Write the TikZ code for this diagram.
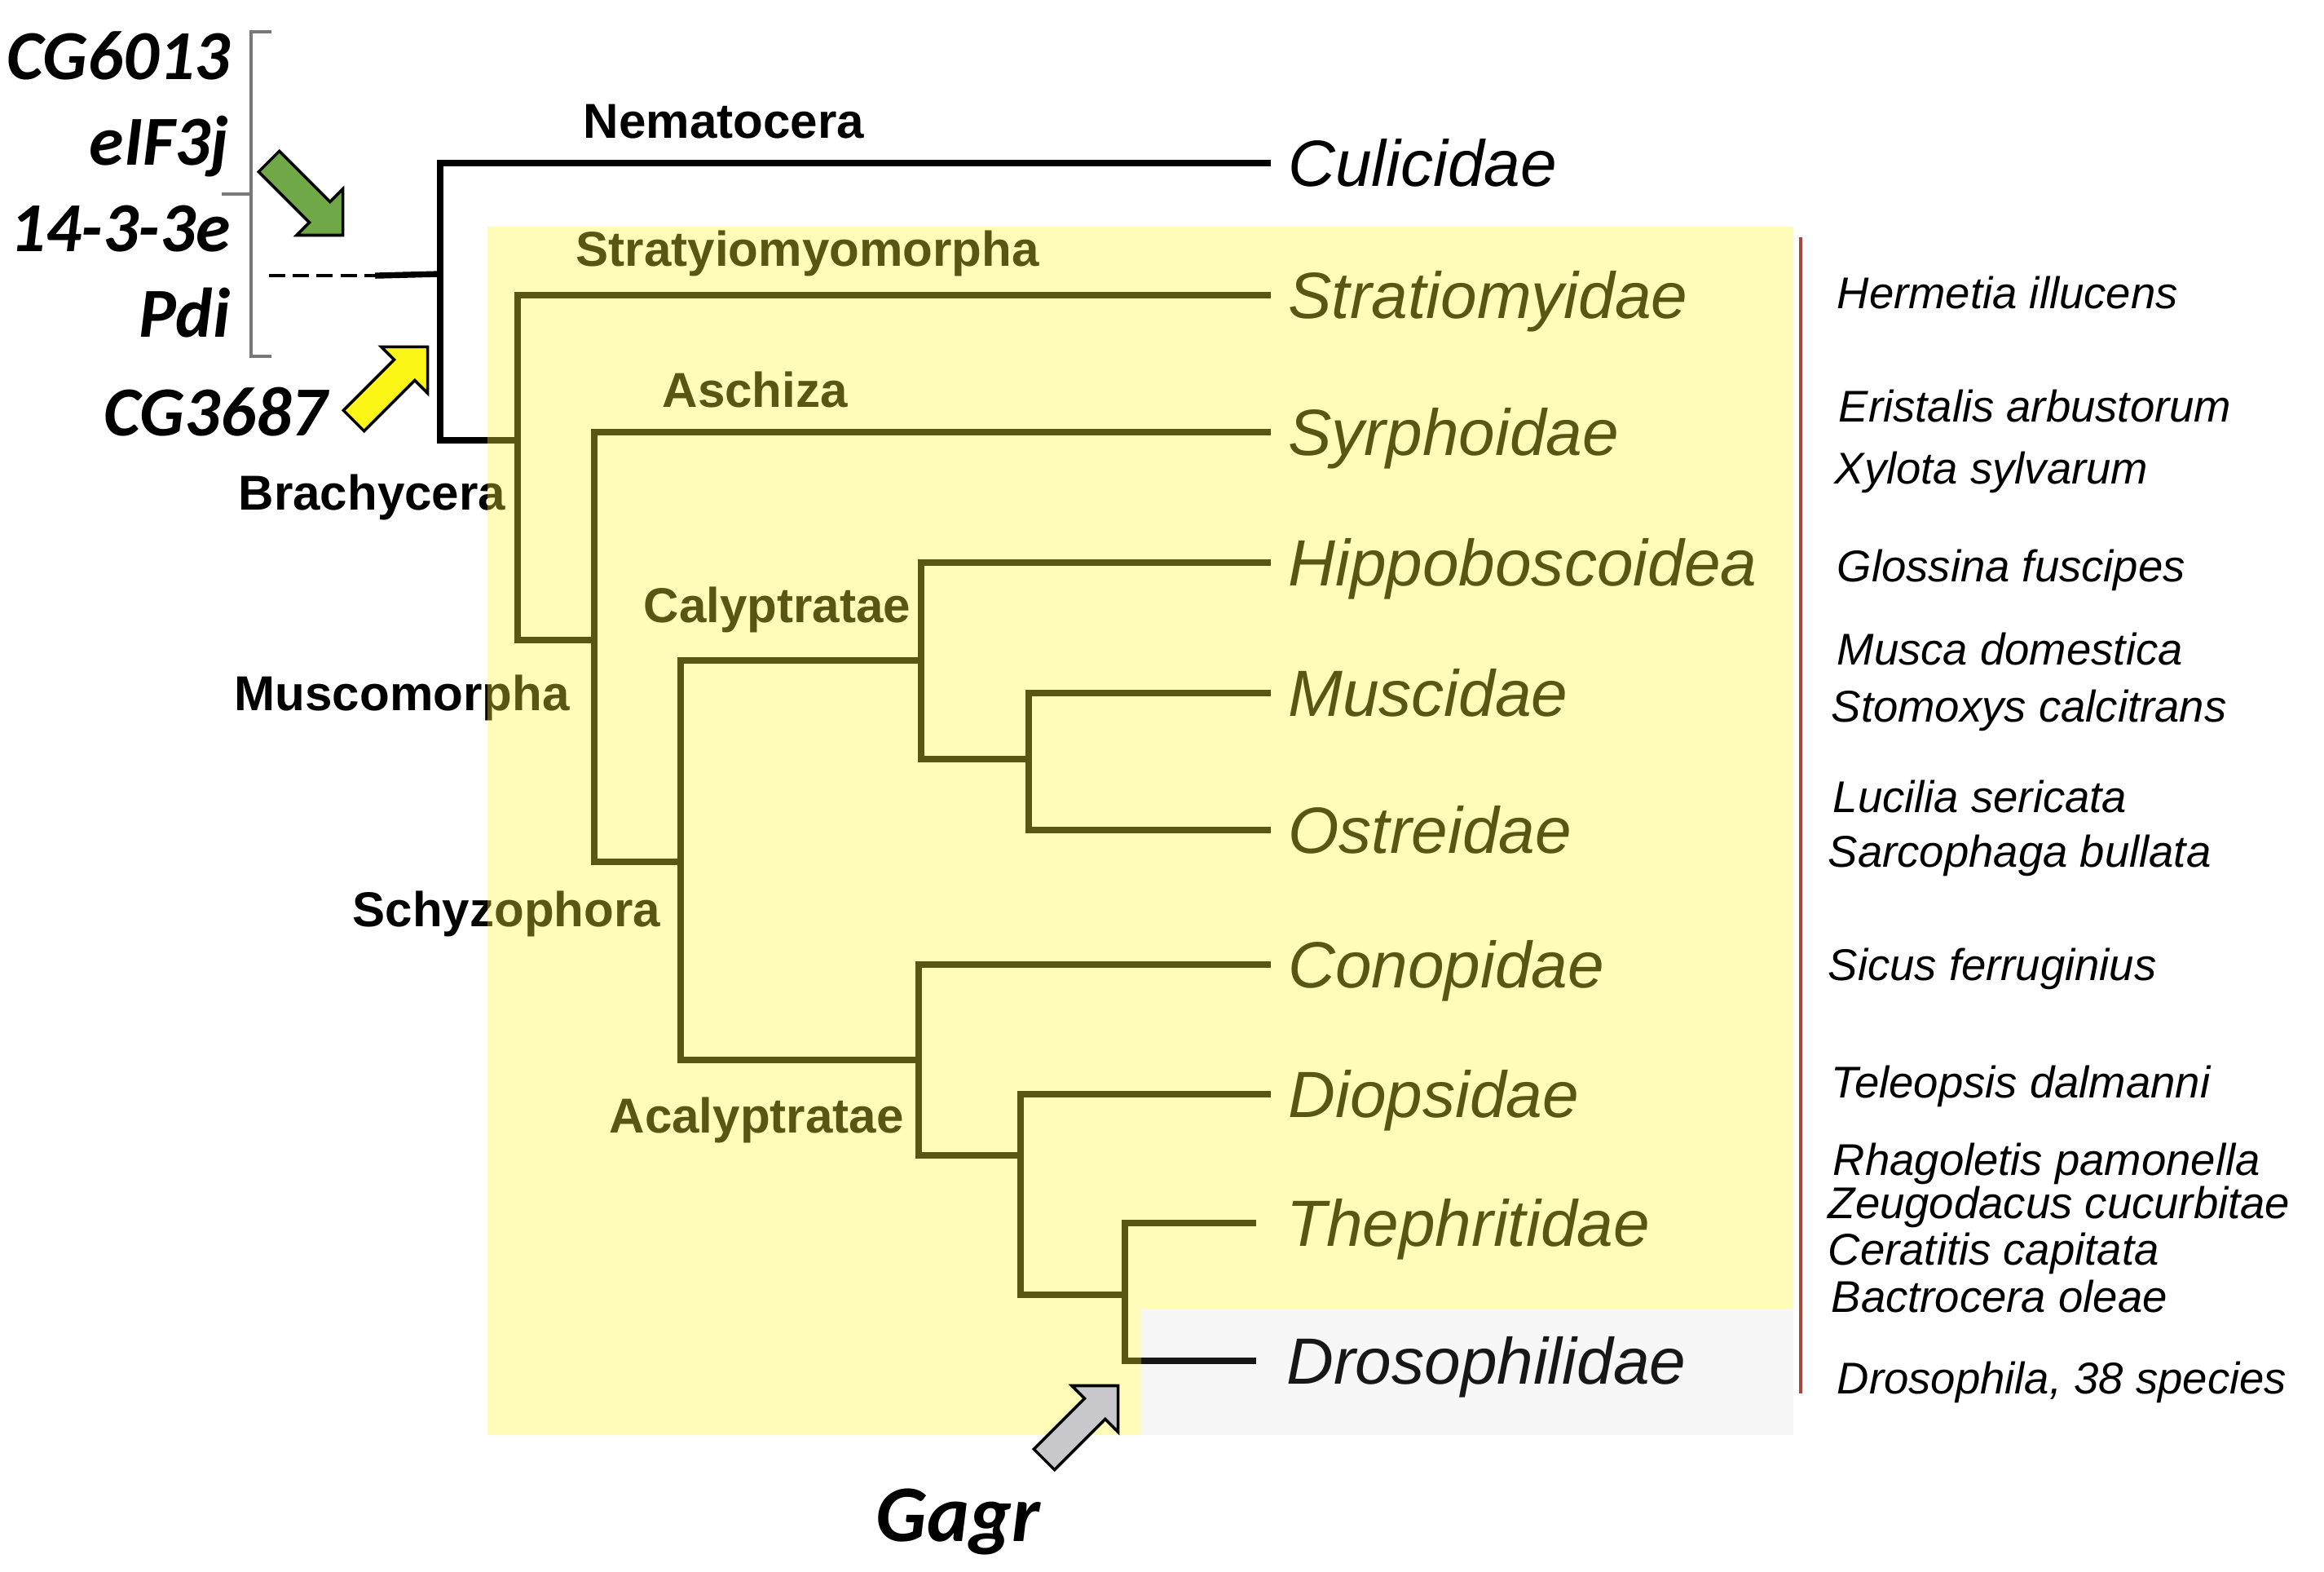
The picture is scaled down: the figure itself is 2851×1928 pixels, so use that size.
\documentclass[tikz,border=0pt]{standalone}
\usepackage{fontspec}
\newfontfamily\arialfont{Liberation Sans}
\newfontfamily\calibrifont{Carlito}
\definecolor{cladeyellow}{RGB}{255,247,59}
\definecolor{genegreen}{RGB}{112,168,72}
\definecolor{geneyellow}{RGB}{250,245,20}
\definecolor{genegray}{RGB}{200,200,204}
\definecolor{sepred}{RGB}{165,72,62}
\definecolor{bracketgray}{RGB}{120,120,120}
\tikzset{
  blockarrow/.pic={
    \draw[pic actions] (0,-18) -- (88,-18) -- (88,-40) -- (128,0) -- (88,40) -- (88,18) -- (0,18) -- cycle;
  }
}

\begin{document}
\begin{tikzpicture}[x=0.01cm, y=-0.01cm,
    branch/.style={line width=2.1pt, line cap=rect},
    clade/.style={anchor=base west, inner sep=0pt, font=\arialfont\bfseries\fontsize{17.1}{20}\selectfont},
    family/.style={anchor=west, inner xsep=7pt, inner ysep=0pt, text height=16.3pt, text depth=0pt, font=\arialfont\itshape\fontsize{22.8}{27}\selectfont},
    species/.style={anchor=base west, inner sep=0pt, font=\arialfont\itshape\fontsize{15.5}{18}\selectfont},
    gene/.style={anchor=base east, inner sep=0pt, font=\calibrifont\bfseries\itshape\fontsize{24.5}{29}\selectfont},
    marker/.style={draw=black, line width=1pt, line join=miter}]
    \fill[white] (0,0) rectangle (2851,1928);
    \useasboundingbox (0,0) rectangle (2851,1928);
    % inner nodes of the tree
    \coordinate (root) at (540,336);
    \coordinate (brachy) at (635,540);
    \coordinate (musco) at (729,785);
    \coordinate (schyzo) at (835,1057);
    \coordinate (calyp) at (1130,810);
    \coordinate (muscost) at (1262,931);
    \coordinate (acalyp) at (1127,1300);
    \coordinate (diopteph) at (1252,1417);
    \coordinate (tephdros) at (1380,1588);
    % families
    \node[family] (culic) at (1555,200) {Culicidae};
    \node[family] (strat) at (1555,362) {Stratiomyidae};
    \node[family] (syrph) at (1555,530) {Syrphoidae};
    \node[family] (hippo) at (1555,690) {Hippoboscoidea};
    \node[family] (muscid) at (1555,850) {Muscidae};
    \node[family] (ostre) at (1555,1018) {Ostreidae};
    \node[family] (conop) at (1555,1183) {Conopidae};
    \node[family] (diops) at (1555,1342) {Diopsidae};
    \node[family, inner xsep=11.5pt] (tephr) at (1537,1500) {Thephritidae};
    \node[family, inner xsep=11.5pt] (droso) at (1537,1669) {Drosophilidae};
    % branches
    \draw[branch] (root) |- (culic.west);
    \draw[branch] (root) |- (brachy);
    \draw[branch] (brachy) |- (strat.west);
    \draw[branch] (brachy) |- (musco);
    \draw[branch] (musco) |- (syrph.west);
    \draw[branch] (musco) |- (schyzo);
    \draw[branch] (schyzo) |- (calyp);
    \draw[branch] (schyzo) |- (acalyp);
    \draw[branch] (calyp) |- (hippo.west);
    \draw[branch] (calyp) |- (muscost);
    \draw[branch] (muscost) |- (muscid.west);
    \draw[branch] (muscost) |- (ostre.west);
    \draw[branch] (acalyp) |- (conop.west);
    \draw[branch] (acalyp) |- (diopteph);
    \draw[branch] (diopteph) |- (diops.west);
    \draw[branch] (diopteph) |- (tephdros);
    \draw[branch] (tephdros) |- (tephr.west);
    \draw[branch] (tephdros) |- (droso.west);
    % outgroup stub
    \coordinate (dashend) at (330,338);
    \coordinate (stub) at (464,338);
    \draw[line width=1.4pt, dash pattern=on 5.7pt off 2.6pt] (dashend) -- (stub);
    \draw[branch] (stub) -- (root);
    % clades
    \node[clade] (nemat) at (715,170) {Nematocera};
    \node[clade] (stratm) at (706,327) {Stratyiomyomorpha};
    \node[clade] (aschiza) at (812,500) {Aschiza};
    \node[clade] (calypt) at (789,764) {Calyptratae};
    \node[clade] (brachyc) at (292,626) {Brachycera};
    \node[clade] (muscom) at (287,871) {Muscomorpha};
    \node[clade] (schyzoph) at (432,1136) {Schyzophora};
    \node[clade] (acalypt) at (747,1389) {Acalyptratae};
    % shading
    \fill[cladeyellow, fill opacity=0.35] (598,278) -- (2200,278) -- (2200,1605) -- (1400,1605) -- (1400,1760) -- (598,1760) -- cycle;
    \fill[black!25, fill opacity=0.12] (1400,1605) rectangle (2200,1760);
    \draw[sepred, line width=1pt] (2209,291) -- (2209,1709);
    % species
    \foreach \x/\y/\name [count=\i] in {2253/379/Hermetia illucens, 2255/518/Eristalis arbustorum,
        2250/594/Xylota sylvarum, 2253/714/Glossina fuscipes, 2253/815/Musca domestica,
        2246/886/Stomoxys calcitrans, 2248/996/Lucilia sericata, 2242/1063/Sarcophaga bullata,
        2242/1202/Sicus ferruginius, 2246/1346/Teleopsis dalmanni, 2248/1441/Rhagoletis pamonella,
        2242/1494/Zeugodacus cucurbitae, 2242/1551/Ceratitis capitata, 2246/1609/Bactrocera oleae,
        2253/1709/Drosophila{,} 38 species}
      \node[species] (sp\i) at (\x,\y) {\name};
    % genes
    \node[gene] (cg6013) at (283,98) {CG6013};
    \node[gene] (eif3j) at (281,203) {eIF3j};
    \node[gene] (ywhae) at (283,309) {14-3-3e};
    \node[gene] (pdi) at (283,414) {Pdi};
    \node[gene] (cg3687) at (402,535) {CG3687};
    \draw[bracketgray, line width=1pt] (333,39) -- (308,39) -- (308,437) -- (333,437);
    \draw[bracketgray, line width=1pt] (308,238) -- (272,238);
    \pic[marker, fill=genegreen, rotate=-45] (greenarrow) at (330,198) {blockarrow};
    \pic[marker, fill=geneyellow, rotate=45] (yellowarrow) at (434,516) {blockarrow};
    \pic[marker, fill=genegray, rotate=45] (grayarrow) at (1281,1790) {blockarrow};
    \node[gene, anchor=base west, font=\calibrifont\bfseries\itshape\fontsize{28}{33}\selectfont] (gagr) at (1074,1890) {Gagr};
\end{tikzpicture}
\end{document}
